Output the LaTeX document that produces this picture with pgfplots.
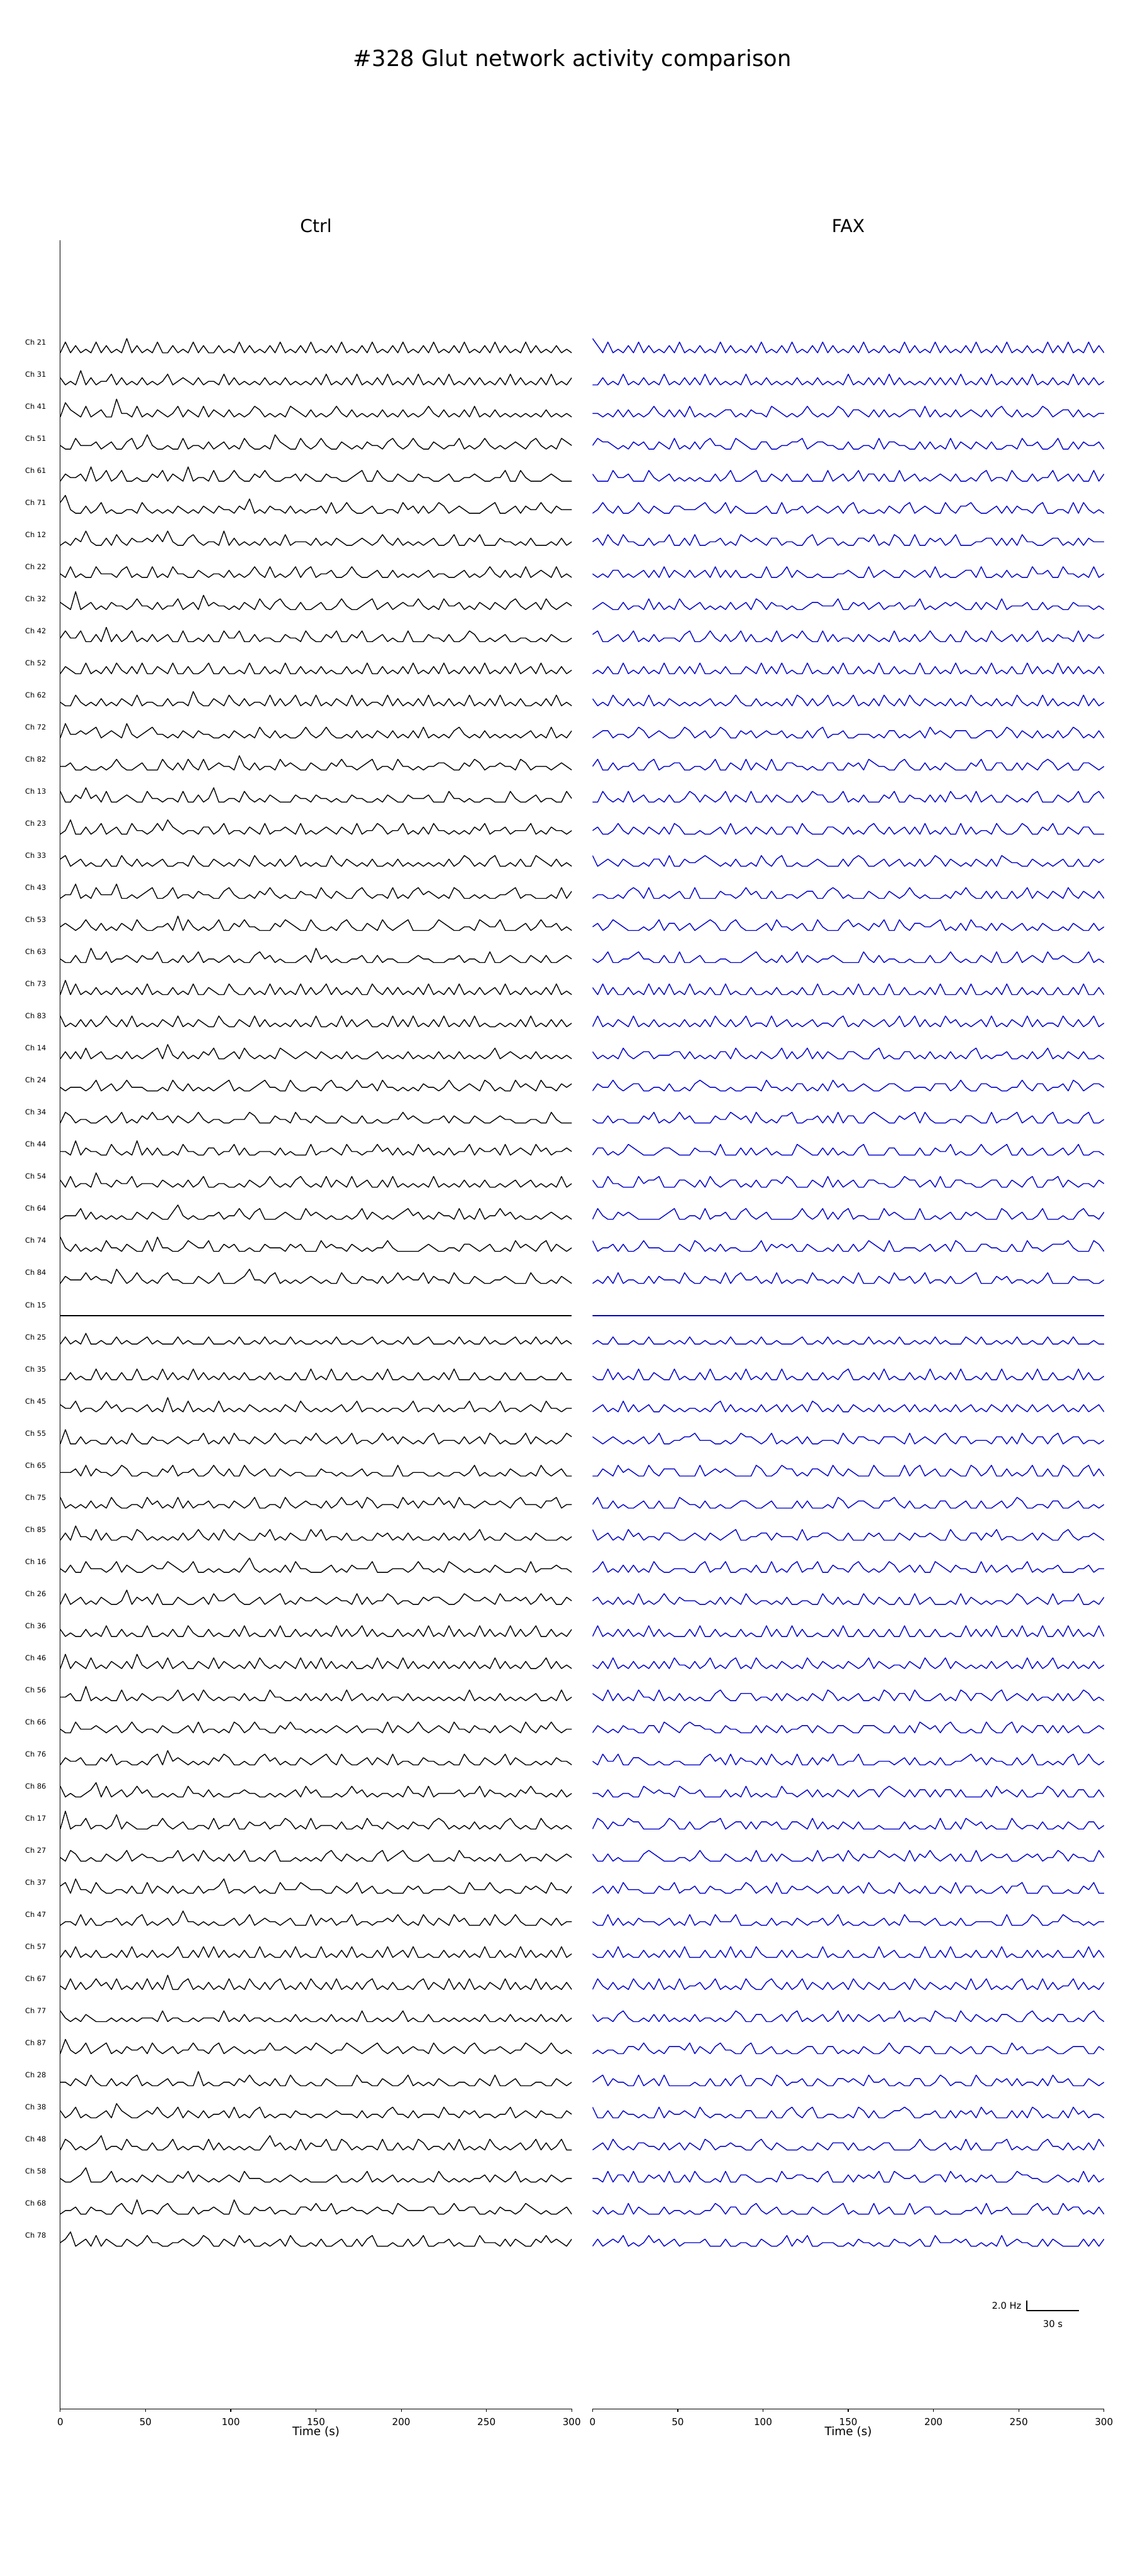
\documentclass[border=0pt]{standalone}
\usepackage{fontspec}
\setmainfont{DejaVu Sans}
\usepackage{pgfplots}
\usepackage{pgfplotstable}
\pgfplotsset{compat=1.18}
\definecolor{faxblue}{RGB}{0,0,205}

% rows: time 0,3,...,300 s ; columns: channels in plotted order (col 30 = Ch 15); unit 0.75 Hz
\pgfplotstableread[header=false]{
0 2 0 1 0 3 0 1 2 1  0 1 0 1 3 0 2 0 1 1  0 3 0 1 0 1 2 0 4 0  0 1 0 2 0 1 3 0 1 0  2 0 1 1 0 3 0 1 2 0  0 1 3 0 1 2 0 1 0 1
3 0 4 0 2 5 1 0 1 3  2 0 4 1 0 1 3 1 2 0  4 0 2 0 3 1 0 1 1 2  0 3 0 1 4 1 0 2 0 3  0 4 1 0 2 0 5 0 3 1  2 0 1 4 1 0 3 0 1 2
0 1 2 0 1 1 0 3 0 1  1 0 1 2 0 4 0 1 1 0  0 1 0 1 2 0 3 1 0 1  0 1 2 1 0 1 1 0 2 0  1 0 2 0 1 1 0 3 0 1  0 3 0 1 0 1 2 0 1 4
2 0 1 3 1 0 2 0 5 1  0 3 1 0 2 0 1 4 0 2  3 0 2 1 0 4 0 1 2 1  0 2 0 3 0 2 0 4 0 1  0 2 0 3 1 0 1 2 4 0  3 0 1 0 2 3 0 1 2 0
0 4 0 1 2 0 1 1 0 3  0 1 2 0 1 0 2 0 1 0  0 2 0 1 1 0 1 3 0 1  0 1 1 0 2 0 1 1 0 2  0 1 0 1 2 0 1 0 1 3  0 2 0 1 1 0 1 2 0 1
1 0 3 1 0 2 4 0 1 0  3 0 1 1 4 2 0 1 3 0  1 0 3 0 1 2 1 0 1 3  0 4 0 1 0 3 0 1 3 0  2 0 4 1 0 1 3 0 1 0  1 0 2 3 0 1 0 4 0 2
0 2 0 1 4 0 1 0 2 0  0 1 2 0 1 0 1 0 1 4  0 2 0 1 0 1 0 2 0 1  0 1 0 1 1 0 2 0 1 1  0 3 0 1 0 2 0 1 0 2  0 1 1 0 3 0 1 0 2 0
3 0 1 2 0 1 0 3 0 2  1 0 3 0 2 1 0 3 0 1  2 0 1 3 0 1 4 0 1 2  0 1 3 0 1 2 0 3 1 0  1 0 1 2 0 4 1 0 3 0  2 3 0 1 1 0 2 0 1 3
0 1 2 0 1 3 0 1 1 0  0 2 0 1 0 3 0 1 2 1  0 1 2 0 1 0 1 1 0 1  0 2 0 1 0 1 1 0 1 2  0 1 0 1 2 0 1 0 1 0  0 1 0 2 0 1 4 0 1 0
2 1 0 1 3 0 2 1 0 4  2 0 1 0 3 0 2 1 0 3  1 3 0 1 2 0 1 0 3 1  0 1 2 3 0 1 0 2 0 1  3 0 1 0 1 3 0 2 0 1  0 2 0 3 0 2 0 1 0 2
0 3 0 2 0 1 0 1 2 0  0 1 2 1 0 1 0 1 1 0  0 1 0 2 0 3 0 1 1 0  0 1 0 1 2 0 3 0 1 0  0 2 0 1 3 0 1 1 0 1  1 0 1 0 2 0 1 3 0 1
1 0 5 0 1 0 3 0 1 2  3 0 1 3 0 2 0 4 0 1  2 0 1 0 1 1 2 0 1 4  0 3 0 2 0 1 1 0 3 0  0 1 0 2 0 1 4 0 1 2  0 3 0 1 0 4 1 0 2 0
0 2 1 0 3 0 1 2 1 0  1 2 0 1 1 0 3 0 2 1  0 2 0 1 3 0 1 1 0 2  0 1 2 0 1 3 0 1 0 1  2 0 3 0 1 2 0 1 1 0  2 0 1 0 1 2 0 1 3 0
4 0 1 2 0 1 0 3 0 1  0 1 4 0 2 0 1 0 1 2  1 0 2 3 0 1 1 0 2 0  0 2 0 1 0 2 0 1 2 4  0 2 0 1 1 0 2 3 0 1  0 1 0 2 0 1 3 0 1 2
0 1 0 3 0 1 2 0 1 3  2 0 1 0 1 3 0 1 0 1  0 3 0 1 1 0 3 0 1 1  0 1 0 1 3 0 1 0 1 0  1 0 1 3 0 1 1 0 2 0  3 0 1 1 2 0 1 1 0 1
2 0 3 0 1 0 1 1 3 0  0 3 0 1 0 1 2 0 3 0  2 0 1 1 0 4 0 2 0 3  0 1 3 0 1 0 1 3 0 2  0 4 0 1 0 3 0 1 0 2  0 2 0 1 3 0 1 0 4 0
0 2 0 1 0 3 1 0 1 1  3 0 1 2 0 1 0 1 1 2  0 1 0 1 2 0 1 1 0 1  0 2 0 1 0 1 0 2 0 1  0 1 2 0 1 1 0 2 0 3  1 0 1 2 0 1 0 2 0 1
1 0 1 4 0 1 2 0 1 0  0 1 2 0 3 0 1 2 0 1  3 0 1 0 1 2 1 0 3 0  0 3 0 2 0 1 3 0 1 2  3 0 1 1 0 2 0 1 3 0  0 3 1 0 1 2 0 1 1 3
0 1 0 1 2 0 1 3 0 2  0 1 3 0 1 1 0 3 0 1  0 1 2 0 3 0 1 2 0 1  0 1 1 0 2 0 1 1 2 0  0 1 0 1 2 0 1 1 0 1  2 0 1 3 0 1 2 0 1 1
3 0 2 0 1 1 3 0 2 0  2 0 1 0 1 3 1 0 1 3  1 0 3 0 1 2 0 1 4 0  0 2 0 1 1 0 2 0 1 3  0 2 1 0 3 0 1 0 2 0  0 2 0 1 0 3 0 2 0 1
0 1 1 0 3 0 1 1 0 1  1 0 1 3 0 1 2 0 1 0  0 2 0 1 1 0 2 0 1 2  0 1 3 0 1 2 0 1 1 0  1 0 1 2 0 1 3 0 1 1  1 0 3 0 1 1 0 1 2 0
0 3 0 1 0 1 4 0 1 2  0 2 0 1 1 4 0 1 2 0  0 1 4 0 2 0 1 0 1 3  0 1 0 4 0 1 1 0 3 0  0 3 0 1 4 0 1 1 0 2  0 4 0 1 2 0 1 0 3 0
2 0 1 0 2 0 1 3 1 0  3 0 1 0 1 2 0 3 0 1  2 0 1 3 0 1 0 2 0 1  0 1 2 0 1 3 0 1 2 0  2 0 1 0 1 1 0 1 2 0  1 0 1 2 0 1 3 0 1 1
0 1 3 0 1 2 0 1 3 0  0 1 0 2 0 1 1 0 4 0  0 3 0 1 2 0 1 4 0 1  0 3 0 1 2 0 3 0 1 2  0 1 3 0 2 0 1 3 0 1  3 0 1 0 1 3 0 2 0 1
1 2 0 3 0 1 0 1 0 3  0 1 2 0 3 0 1 1 0 2  1 0 2 0 1 3 0 1 1 0  0 1 1 0 1 1 0 2 0 1  0 2 0 1 1 0 2 0 1 4  0 2 0 1 1 0 1 1 0 2
0 1 2 0 4 0 2 0 1 0  2 0 1 3 0 1 0 1 3 0  0 1 0 2 0 1 2 0 3 0  0 2 0 3 0 1 2 0 1 0  3 0 1 2 0 3 0 1 0 1  0 3 0 1 0 2 0 3 0 1
3 0 1 1 0 1 3 0 2 0  0 4 0 1 0 1 3 0 1 1  3 0 1 0 1 1 0 1 2 0  0 1 3 0 1 2 0 1 3 0  1 0 2 0 1 1 0 2 0 1  2 0 1 3 0 1 1 0 2 0
0 2 0 1 1 0 1 2 0 1  0 1 2 0 2 0 1 2 0 3  0 2 0 1 3 0 1 0 1 2  0 1 0 1 1 0 1 3 0 1  0 2 0 3 0 1 1 0 2 0  0 1 0 1 4 0 1 2 0 1
2 0 3 0 1 2 0 1 4 0  1 0 1 3 0 2 0 1 1 0  0 1 2 0 1 0 3 0 1 1  0 1 2 0 3 0 1 1 0 2  0 1 3 0 1 0 1 3 0 1  3 0 1 1 0 2 0 1 1 3
0 1 0 2 0 1 1 0 1 2  3 0 1 0 1 2 0 1 0 1  2 0 1 1 0 2 0 1 3 0  0 3 0 1 0 1 2 0 1 0  2 0 1 1 0 2 0 1 1 0  0 2 1 0 1 0 3 0 1 2
0 1 2 0 3 0 1 1 2 0  0 2 0 1 4 0 2 0 1 1  1 0 3 0 1 2 0 1 0 1  0 1 1 0 1 3 0 2 0 3  0 3 0 1 2 0 3 0 1 1  3 0 1 2 0 1 0 1 2 0
2 0 1 1 0 2 0 1 1 0  0 1 0 2 0 1 1 0 3 0  0 3 0 1 1 0 1 2 0 3  0 1 0 3 0 1 1 0 1 1  1 0 1 0 1 1 0 1 2 0  0 1 0 3 0 1 2 0 1 0
0 3 0 2 0 1 4 0 1 3  2 0 1 1 0 3 0 2 0 1  0 1 0 2 0 1 1 0 2 0  0 1 2 0 2 0 1 3 0 1  0 2 0 1 3 0 1 0 4 0  2 0 3 0 1 2 0 1 0 2
1 0 2 0 1 1 0 2 0 1  0 3 0 1 1 0 1 3 0 2  3 0 1 3 0 1 0 1 1 0  0 2 0 1 0 2 0 1 0 2  0 1 1 0 2 0 1 2 0 1  0 3 0 1 1 0 1 2 0 1
0 2 0 1 3 0 2 0 1 1  0 1 2 0 1 1 0 1 2 0  1 0 2 0 1 3 0 1 2 0  0 1 1 0 3 0 2 0 1 3  2 0 1 3 0 1 3 0 1 2  1 0 1 2 0 3 0 1 4 0
3 0 1 0 1 2 0 1 0 3  1 0 1 4 0 1 2 0 1 1  0 2 0 1 1 0 1 3 0 1  0 3 0 1 1 0 1 2 0 1  0 1 0 2 0 1 0 1 1 0  0 1 0 1 2 0 1 0 1 3
0 1 0 3 0 1 1 0 2 0  0 2 0 1 3 0 1 0 3 0  0 1 3 0 1 2 0 1 0 2  0 1 2 0 1 3 0 1 2 0  3 0 2 0 1 2 0 3 0 1  2 0 2 0 1 1 0 3 0 1
2 0 1 1 0 4 0 1 1 0  3 0 1 0 1 2 0 1 1 0  2 0 1 0 3 0 2 0 1 4  0 1 0 2 0 1 1 0 4 0  0 2 0 1 0 1 2 0 1 3  0 3 0 1 3 0 1 1 0 2
0 1 3 0 2 0 1 3 0 2  0 1 0 2 0 1 3 0 1 2  0 3 0 1 2 0 1 2 0 1  0 2 0 1 2 0 3 0 1 1  1 0 1 3 0 1 1 0 2 0  0 1 1 0 1 2 0 1 2 0
1 0 2 0 1 1 0 1 3 0  0 1 3 0 1 0 1 2 0 3  1 0 1 2 0 1 0 3 0 1  0 1 1 0 1 1 0 2 0 2  0 3 0 1 2 0 1 1 0 1  3 0 1 1 0 3 0 1 1 0
0 2 0 1 3 0 2 0 1 1  2 0 1 1 0 3 0 1 0 1  0 2 0 3 0 1 1 0 2 0  0 3 0 1 0 2 0 1 1 0  0 1 0 1 3 0 2 0 1 2  0 2 0 1 1 0 2 0 1 1
2 0 1 0 1 2 0 3 0 1  0 3 0 1 2 0 1 3 0 2  3 0 1 1 0 1 3 0 1 2  0 1 2 0 1 0 1 3 0 1  2 0 3 0 1 1 0 2 0 1  1 0 1 3 0 1 4 0 2 0
0 1 0 4 0 1 1 0 2 0  1 0 2 0 1 1 0 1 2 0  0 1 0 1 2 0 1 0 1 3  0 2 0 1 3 0 1 0 1 2  0 1 1 0 2 0 1 3 0 1  0 2 0 1 2 0 1 1 0 1
3 0 1 2 0 1 0 1 3 0  0 2 0 3 0 1 2 0 1 1  2 0 3 0 1 2 0 1 1 0  0 1 1 0 1 2 0 1 0 3  3 0 1 2 0 1 1 0 3 0  0 3 0 1 0 1 2 0 1 2
0 2 0 1 1 0 3 0 1 2  3 0 1 1 0 2 0 1 3 0  0 1 2 0 1 0 1 2 0 1  0 1 0 2 0 1 3 0 2 0  0 2 0 1 1 0 3 0 1 1  2 0 1 2 0 1 0 1 1 0
1 0 3 0 1 2 0 1 0 1  0 1 0 2 0 1 1 0 2 0  1 0 1 3 0 1 0 1 2 0  0 3 0 1 1 0 1 2 0 1  0 1 0 3 0 1 2 0 1 2  0 1 0 1 3 0 1 2 0 3
0 1 2 0 2 0 1 3 0 1  0 3 0 1 2 0 3 0 1 0  0 2 0 1 3 0 2 0 1 1  0 1 2 0 1 1 0 1 3 0  2 0 1 1 0 2 0 1 1 0  3 0 2 0 1 2 0 1 0 1
2 0 1 3 0 1 1 0 2 0  2 0 1 0 1 3 0 2 0 1  3 0 1 0 1 0 3 0 2 0  0 2 0 3 0 1 1 0 1 2  0 3 0 1 2 0 1 0 3 0  0 2 0 1 0 1 3 0 2 0
0 1 0 1 2 0 1 2 0 3  0 1 3 0 1 0 1 1 0 2  0 1 2 0 1 0 1 3 0 1  0 1 0 1 2 0 2 0 1 1  1 0 2 0 1 3 0 1 2 0  1 0 1 2 0 1 0 1 2 0
3 0 2 0 1 1 0 3 0 1  1 0 1 2 0 1 0 1 3 0  2 0 1 1 0 3 0 1 0 2  0 1 3 0 1 0 1 3 0 1  0 2 0 1 0 1 3 0 1 3  0 3 0 1 1 0 2 0 1 1
0 2 0 1 0 1 2 0 1 0  0 3 0 1 2 0 1 0 1 4  0 3 0 1 2 0 1 2 0 1  0 2 0 1 3 0 1 1 0 2  2 0 1 0 1 2 0 1 1 0  0 1 0 3 0 1 1 0 3 0
1 0 1 3 0 2 0 1 2 0  2 0 1 0 1 1 0 3 0 1  1 0 2 0 1 1 0 1 3 0  0 1 1 0 1 2 0 3 0 1  0 3 0 1 2 0 1 0 1 2  3 0 1 2 0 1 1 0 1 2
0 3 0 1 2 0 1 1 0 2  0 1 3 0 1 2 0 1 0 2  3 0 1 2 0 1 3 0 1 1  0 2 0 1 0 1 2 0 1 0  1 0 2 0 3 0 1 2 0 1  0 2 0 1 2 0 3 0 1 0
2 0 1 0 1 3 0 2 0 1  1 0 1 2 0 1 3 0 1 0  0 1 0 3 0 2 0 1 2 0  0 1 3 0 1 1 0 1 2 1  0 2 0 1 1 0 1 3 0 2  1 0 2 0 1 1 0 1 3 0
0 1 3 0 1 0 2 0 1 3  0 2 0 1 1 0 1 2 0 1  2 0 1 1 0 1 2 0 1 0  0 3 0 1 2 0 1 1 0 2  3 0 1 2 0 1 0 1 2 0  0 3 0 1 0 2 0 2 0 1
3 0 1 2 0 1 1 0 3 0  0 1 0 3 0 2 0 1 2 0  0 3 0 1 2 0 1 0 1 3  0 1 0 2 0 1 3 0 1 1  0 1 0 1 3 0 2 0 1 1  2 0 1 1 0 1 3 0 1 2
0 2 0 1 0 3 0 1 1 0  2 0 1 1 0 1 2 0 3 0  1 0 2 0 1 3 0 1 0 1  0 1 2 0 1 0 1 2 0 1  2 0 3 0 1 1 0 2 0 1  0 1 0 3 0 1 2 0 1 0
1 0 2 0 1 1 0 3 0 2  0 3 0 1 2 0 1 0 1 1  0 2 0 1 0 1 3 0 2 0  0 2 0 1 3 0 1 0 2 0  0 2 0 1 0 3 0 1 1 3  3 0 1 2 0 1 0 1 2 0
0 3 0 1 2 0 1 1 0 1  1 0 2 0 1 3 0 2 0 1  2 0 1 3 0 1 0 1 1 0  0 1 0 3 0 1 2 0 1 3  1 0 1 2 0 1 1 0 3 0  0 2 0 1 3 0 1 0 1 2
2 0 1 0 3 0 2 0 1 3  0 2 0 1 1 0 1 3 0 2  0 1 0 1 2 0 1 3 0 2  0 1 1 0 1 2 0 1 1 0  3 0 2 0 1 2 0 1 0 1  1 0 3 0 1 2 0 1 1 0
0 1 0 2 0 1 1 0 2 0  3 0 1 2 0 1 0 1 2 0  0 2 0 1 0 1 2 0 1 1  0 2 0 1 1 0 3 0 1 2  0 1 0 1 2 0 3 0 1 1  0 2 0 1 1 0 1 3 0 2
3 0 1 1 0 2 0 1 3 0  0 1 0 3 0 1 2 0 1 0  3 0 1 2 0 1 0 2 0 1  0 3 0 1 0 1 2 0 3 0  2 0 1 1 0 1 1 0 2 0  0 3 0 2 0 1 1 0 1 3
0 2 0 1 3 0 1 2 0 1  0 1 2 0 1 3 0 1 0 2  1 0 2 0 1 3 0 1 1 0  0 1 2 0 1 1 0 2 0 1  0 3 0 1 2 0 1 2 0 1  2 0 1 3 0 1 0 1 2 0
1 0 2 0 1 0 3 0 1 2  2 0 1 1 0 2 0 1 3 0  0 1 0 3 0 1 2 0 1 2  0 2 0 1 3 0 1 1 0 1  1 0 2 0 1 1 0 3 0 1  0 1 0 1 2 0 3 0 1 0
0 3 0 2 0 1 1 0 2 0  0 3 0 1 2 0 1 0 1 1  2 0 1 1 0 2 0 1 3 0  0 1 3 0 1 0 1 2 0 3  0 2 0 3 0 1 2 0 1 2  3 0 1 0 1 2 0 1 1 0
2 0 1 3 0 1 0 2 0 1  1 0 2 0 1 1 0 3 0 1  0 3 0 1 1 0 3 0 1 1  0 1 0 1 2 0 1 0 1 2  0 1 1 0 3 0 1 1 0 1  0 2 0 1 0 3 0 2 0 1
0 1 0 1 2 0 2 0 1 0  0 2 0 3 0 1 2 0 1 0  2 0 1 0 1 2 0 1 0 3  0 2 0 1 0 3 0 1 1 0  2 0 1 2 0 1 0 2 0 3  1 0 1 2 0 1 2 0 3 0
3 0 2 0 1 3 0 1 2 0  2 0 1 1 0 3 0 1 2 0  0 2 0 1 3 0 1 2 0 1  0 1 1 0 2 0 3 0 1 1  0 3 0 1 1 0 1 3 0 1  2 0 3 0 1 1 0 1 2 0
0 2 0 1 0 1 1 0 1 3  0 1 0 1 2 0 1 0 3 0  1 0 2 0 1 1 0 3 0 2  0 3 0 1 1 0 1 2 0 1  1 0 2 0 1 3 0 1 2 0  0 1 0 1 3 0 1 0 1 2
1 0 1 3 0 2 0 1 1 0  3 0 2 0 1 1 0 2 0 1  0 3 0 1 2 0 1 1 0 1  0 1 0 3 0 1 2 0 1 0  0 2 0 1 0 1 2 0 1 1  3 0 1 2 0 2 0 1 1 0
0 3 0 1 2 0 1 0 3 0  0 2 0 1 1 0 1 3 0 2  2 0 1 0 1 3 0 2 0 1  0 1 2 0 1 1 0 1 3 0  2 0 1 3 0 1 1 0 2 0  0 2 0 1 1 0 3 0 1 1
2 0 1 0 1 2 0 1 1 0  1 0 3 0 1 2 0 1 0 1  0 1 0 2 0 1 1 0 1 3  0 2 0 1 0 1 2 0 1 2  0 1 0 1 2 0 1 1 0 3  0 3 0 1 0 1 2 0 1 3
0 1 3 0 1 0 1 2 0 2  0 3 0 1 2 0 1 2 0 1  3 0 1 1 0 2 0 1 2 0  0 3 0 1 2 0 1 0 1 1  3 0 1 0 1 3 0 2 0 1  1 0 2 0 1 1 0 1 2 0
3 0 1 2 0 1 2 0 1 1  2 0 1 1 0 3 0 1 1 0  0 2 0 1 1 0 3 0 1 2  0 1 1 0 3 0 1 1 0 2  0 2 0 1 1 0 2 0 1 0  0 2 0 3 0 1 1 0 2 0
0 2 0 1 0 3 0 1 0 1  0 1 0 2 0 1 1 0 3 0  1 0 2 0 1 1 0 2 0 1  0 1 0 2 0 1 3 0 1 2  1 0 1 2 0 1 3 0 1 2  0 1 0 1 2 0 1 3 0 1
1 0 2 0 1 2 0 1 3 0  3 0 1 2 0 1 0 1 2 0  0 3 0 1 2 0 1 1 0 1  0 1 2 0 1 0 1 2 0 1  0 2 0 1 0 1 2 0 1 1  2 0 1 0 1 3 0 1 0 1
0 3 0 1 2 0 1 0 1 2  0 2 0 1 3 0 2 0 1 1  2 0 1 3 0 2 0 1 1 0  0 2 0 1 1 0 2 0 3 0  3 0 1 0 1 1 0 1 2 0  0 3 0 1 0 1 2 0 1 2
2 0 1 1 0 1 3 0 1 0  1 0 2 0 1 1 0 3 0 1  0 1 0 1 2 0 1 0 1 3  0 1 3 0 1 1 0 1 2 0  0 1 0 3 0 1 1 0 1 3  1 0 1 2 0 1 0 1 3 0
0 1 0 3 0 2 0 1 2 0  0 1 3 0 1 0 1 2 0 2  3 0 2 0 1 1 0 3 0 1  0 3 0 1 0 1 3 0 1 1  2 0 1 1 0 2 0 3 0 1  0 2 0 1 1 0 3 0 1 1
3 0 2 0 1 1 0 2 0 1  2 0 1 2 0 1 3 0 1 0  0 2 0 1 0 1 2 0 2 0  0 1 0 1 2 0 1 2 0 3  0 2 0 1 3 0 1 1 0 2  2 0 1 0 1 2 0 1 1 0
0 2 0 1 1 0 2 0 1 3  0 3 0 1 1 0 2 0 1 1  1 0 1 2 0 3 0 1 2 0  0 2 0 3 0 1 1 0 1 2  1 0 3 0 1 1 0 1 3 0  0 3 0 2 0 1 1 0 2 0
1 0 3 0 2 0 1 1 0 2  2 0 1 3 0 2 0 1 0 1  0 3 0 1 2 0 1 0 1 2  0 1 2 0 1 3 0 1 0 1  0 2 0 2 0 1 2 0 1 0  1 0 1 3 0 2 0 1 2 0
0 2 0 1 1 0 3 0 2 0  0 1 0 2 0 1 1 0 3 0  2 0 1 0 1 2 0 3 0 1  0 1 0 1 2 0 1 3 0 1  3 0 1 1 0 3 0 1 1 0  0 1 0 1 2 0 1 1 0 3
2 0 1 3 0 1 0 1 1 0  3 0 2 0 1 3 0 1 2 0  0 1 0 3 0 1 2 0 1 0  0 3 0 1 0 1 2 0 1 2  0 1 0 1 2 0 1 0 1 2  3 0 2 0 1 1 0 2 0 1
0 1 0 1 0 2 0 3 0 1  0 2 0 1 1 0 2 0 1 3  1 0 1 2 0 1 0 1 2 0  0 1 1 0 3 0 1 1 0 1  2 0 1 0 1 2 0 1 3 0  0 2 0 1 0 1 3 0 1 1
3 0 2 0 1 3 0 1 2 0  1 0 1 1 0 1 3 0 1 0  2 0 3 0 1 2 0 1 0 1  0 2 0 1 2 0 1 0 2 0  0 3 0 2 0 1 1 0 1 3  0 1 0 1 3 0 1 2 0 1
0 2 0 1 1 0 2 0 1 1  0 3 0 2 0 1 0 1 3 0  0 1 0 1 2 0 1 3 0 1  0 1 0 3 0 1 2 0 1 3  1 0 2 0 1 1 0 2 0 1  2 0 1 2 0 1 0 1 2 0
2 0 1 0 3 0 1 2 0 2  2 0 1 1 0 2 0 1 0 1  3 0 1 0 1 3 0 1 1 2  0 1 2 0 1 0 1 2 0 1  0 2 0 1 3 0 2 0 1 0  0 3 0 1 0 1 1 0 1 2
0 3 0 1 0 1 1 0 2 0  0 1 0 1 3 0 1 2 0 2  0 1 2 0 1 0 1 2 0 1  0 2 0 1 0 2 0 1 0 1  3 0 1 2 0 1 3 0 1 1  1 0 2 0 1 3 0 1 1 0
1 0 1 2 0 2 0 1 3 0  3 0 1 0 1 1 0 3 0 1  1 0 1 3 0 1 2 0 3 0  0 3 0 1 0 1 2 0 1 2  0 1 0 1 2 0 1 1 0 3  0 2 0 1 2 0 1 3 0 2
0 2 0 1 3 0 1 0 1 1  0 2 0 3 0 1 2 0 1 0  0 2 0 1 0 2 0 1 1 0  0 1 2 0 1 0 3 0 1 1  2 0 1 0 1 2 0 2 0 1  3 0 1 1 0 1 2 0 1 1
3 0 1 0 1 2 0 3 0 1  1 0 1 2 0 1 0 1 2 0  2 0 1 2 0 1 1 0 2 0  0 2 0 1 3 0 1 1 0 2  0 2 0 3 0 1 1 0 2 0  0 1 0 3 0 2 0 1 3 0
0 1 0 2 0 1 2 0 1 0  2 0 2 0 1 3 0 1 0 2  0 3 0 1 1 0 2 0 1 3  0 1 0 2 0 1 1 0 3 0  1 0 1 1 0 3 0 1 1 0  2 0 1 2 0 1 1 0 2 0
2 0 1 3 0 1 0 1 2 0  0 1 0 1 2 0 3 0 1 1  1 0 2 0 1 3 0 1 0 1  0 3 0 1 2 0 1 2 0 1  3 0 2 0 1 1 0 1 2 0  0 3 0 1 1 0 3 0 1 2
0 2 0 1 0 3 0 2 0 1  3 0 1 1 0 1 2 0 3 0  0 1 0 3 0 1 1 0 2 0  0 1 1 0 1 3 0 1 1 3  0 1 0 2 0 1 3 0 1 2  1 0 2 0 1 2 0 1 0 1
1 0 2 0 1 1 0 1 3 0  0 2 0 1 1 0 1 0 1 2  2 0 1 1 0 2 0 1 3 0  0 2 0 3 0 1 2 0 1 1  0 3 0 1 1 0 1 2 0 1  0 2 0 1 0 1 2 0 1 3
0 3 0 1 2 0 1 0 1 2  1 0 3 0 1 2 0 1 1 0  0 2 0 1 3 0 1 2 0 1  0 1 0 1 1 0 2 0 1 2  2 0 1 3 0 1 0 1 3 0  2 0 1 3 0 1 0 2 0 1
2 0 1 0 1 2 0 3 0 1  0 3 0 1 0 1 2 0 2 0  3 0 1 0 1 1 0 1 2 0  0 3 0 1 0 1 3 0 2 0  0 2 0 1 2 0 1 0 1 2  0 1 0 1 2 0 1 1 0 2
0 1 0 3 0 1 2 0 1 0  2 0 1 2 0 1 0 3 0 1  0 2 0 2 0 1 3 0 1 2  0 1 2 0 1 2 0 1 1 0  1 0 3 0 1 2 0 1 1 0  3 0 2 0 1 0 3 0 1 1
1 0 1 2 0 1 0 1 2 0  0 1 0 1 3 0 1 0 1 2  1 0 1 1 0 2 0 1 0 1  0 2 0 1 3 0 1 0 1 2  0 1 0 1 1 0 1 2 0 1  0 2 0 1 0 2 0 1 2 0
0 2 0 1 0 1 1 0 1 1  1 0 2 0 1 1 0 2 0 1  0 1 0 2 0 1 1 0 1 0  0 1 0 1 2 0 1 1 0 1  2 0 1 1 0 1 0 1 2 1  1 0 1 0 1 1 0 1 0 2
}\ctrldata

\pgfplotstableread[header=false]{
4 0 1 1 2 0 1 1 0 2  0 2 0 1 0 1 3 0 1 1  2 0 2 0 1 0 2 0 3 0  0 1 1 0 2 0 1 3 0 1  0 1 2 0 1 1 0 2 0 1  1 0 2 0 1 3 0 1 1 0
2 0 1 3 0 1 2 0 1 3  1 0 1 3 0 2 0 1 2 0  0 3 0 2 0 2 0 3 0 1  0 2 0 1 1 0 3 0 1 2  3 0 1 2 0 1 3 0 1 0  0 3 0 1 2 0 1 1 0 2
0 2 0 2 0 3 0 1 2 0  0 1 2 0 3 0 1 1 0 1  3 0 1 1 0 2 0 1 1 0  0 1 0 2 0 2 0 1 3 0  0 2 0 1 3 0 2 0 2 0  0 1 1 0 3 0 2 0 2 0
3 0 1 2 0 1 3 0 1 0  2 0 2 0 1 0 2 0 1 3  0 1 0 1 2 0 3 0 1 2  0 1 3 0 1 1 0 2 0 1  1 0 3 0 1 2 0 2 0 3  2 0 1 1 0 2 0 3 0 1
0 1 0 1 3 0 1 2 0 1  0 3 0 2 0 1 1 0 3 0  2 0 1 3 0 1 1 0 2 0  0 3 0 1 2 0 2 0 1 0  0 3 0 1 1 0 2 0 2 0  0 2 0 1 2 0 3 0 1 2
1 0 2 0 1 2 0 2 0 2  0 1 1 0 1 3 0 1 2 0  0 2 0 1 1 0 1 2 0 3  0 1 2 0 1 3 0 1 0 2  2 0 2 0 3 0 1 1 0 2  3 0 2 0 1 0 1 2 0 1
0 3 0 1 1 0 3 0 2 0  3 0 1 1 0 1 2 0 1 1  0 1 3 0 1 1 0 1 2 0  0 1 0 3 0 1 1 0 2 0  0 1 0 2 0 1 1 0 3 0  0 1 3 0 1 2 0 2 0 3
2 0 2 0 2 0 1 1 0 1  0 2 0 1 3 0 1 2 0 1  2 0 1 1 0 3 0 2 0 1  0 1 1 0 1 2 0 3 0 1  2 0 1 1 0 1 3 0 1 1  1 0 1 2 0 1 1 0 3 0
0 1 0 2 0 1 1 0 1 3  1 0 1 2 0 2 0 3 0 2  0 3 0 2 0 2 0 1 0 1  0 2 0 2 0 1 0 1 2 0  0 2 0 1 2 0 2 0 1 0  0 3 0 2 0 1 0 3 0 1
3 0 1 1 0 3 0 1 1 0  0 1 3 0 1 1 0 2 0 3  1 0 1 2 0 1 3 0 1 0  0 1 3 0 1 0 1 2 0 3  1 0 3 0 2 0 2 0 1 2  0 1 0 1 3 0 2 0 2 0
0 2 0 2 0 1 0 2 0 1  2 0 2 0 2 0 1 0 1 1  0 1 2 0 2 0 1 0 3 0  0 1 0 1 2 0 2 0 1 0  0 1 1 0 1 3 0 2 0 1  2 0 1 3 0 1 2 0 1 1
2 0 1 0 3 0 2 0 3 0  0 3 0 2 0 2 0 3 0 1  3 0 2 0 1 0 2 0 1 2  0 3 0 2 0 3 0 1 0 1  3 0 1 2 0 2 0 3 0 1  0 2 0 1 1 0 1 2 0 3
0 1 3 0 1 2 0 2 0 2  1 0 1 3 0 1 2 0 1 0  0 2 0 1 3 0 2 0 1 0  0 1 2 0 1 1 0 1 3 0  0 2 0 2 0 1 0 2 0 1  1 0 2 0 2 0 1 1 0 1
1 0 1 2 0 1 1 0 2 0  0 1 2 0 1 0 2 0 3 0  2 0 1 1 0 1 3 0 1 2  0 1 1 0 3 0 2 0 1 1  2 0 3 0 1 2 0 1 2 0  0 3 0 1 0 3 0 2 0 2
0 3 0 1 1 0 1 3 0 1  3 0 1 1 0 2 0 1 0 2  0 1 1 0 1 2 0 1 0 1  0 1 0 2 0 2 0 2 0 3  0 2 0 3 0 1 1 0 1 1  2 0 2 0 3 0 2 0 2 0
2 0 2 0 2 0 3 0 1 1  0 2 0 1 2 0 3 0 2 0  3 0 1 2 0 2 0 2 0 1  0 2 0 1 0 2 0 2 0 1  1 0 1 2 0 1 3 0 1 2  0 1 0 2 0 2 0 3 0 1
0 1 0 3 0 2 0 2 0 1  0 1 0 2 0 3 0 1 2 0  0 1 2 0 1 1 0 3 0 1  0 1 3 0 1 2 0 1 1 0  0 3 0 1 1 0 2 0 3 0  2 0 1 2 0 1 1 0 1 2
3 0 2 0 1 2 0 1 3 0  2 0 1 2 0 2 0 2 0 3  1 0 2 0 3 0 2 0 2 0  0 2 0 1 1 0 3 0 1 2  0 1 2 0 1 3 0 1 0 1  0 3 0 2 0 1 2 0 1 0
0 2 0 1 0 1 2 0 1 2  0 1 3 0 1 0 2 0 1 0  0 2 0 1 1 0 2 0 1 3  0 1 1 0 2 0 2 0 1 1  0 1 0 2 0 2 0 1 1 0  3 0 1 1 0 2 0 2 0 1
1 0 3 0 1 1 0 2 0 3  2 0 2 0 3 0 1 0 2 0  3 0 2 0 2 0 1 1 0 1  0 3 0 1 2 0 1 1 0 1  2 0 1 3 0 1 2 0 1 3  0 1 0 3 0 1 2 0 1 1
0 2 0 2 0 1 3 0 1 0  0 1 0 1 2 0 1 3 0 1  0 1 0 2 0 2 0 1 3 0  0 1 0 1 3 0 1 2 0 1  0 2 0 2 0 1 0 1 2 0  0 1 2 0 1 0 1 3 0 1
2 0 1 0 1 2 0 1 2 0  3 0 1 1 0 1 2 0 1 2  1 0 1 3 0 1 2 0 2 0  0 1 2 0 1 3 0 1 2 0  3 0 1 2 0 2 0 3 0 1  0 2 0 2 0 3 0 1 0 1
0 3 0 2 0 3 0 2 0 1  0 1 2 0 2 0 3 0 2 0  0 2 0 2 0 1 0 3 0 2  0 2 0 1 1 0 2 0 3 0  0 1 0 1 2 0 1 1 0 1  2 0 1 1 0 1 3 0 1 2
1 0 1 3 0 1 1 0 1 3  0 2 0 1 1 0 2 0 3 0  2 0 1 1 0 1 3 0 1 1  0 1 3 0 1 1 0 2 0 1  0 3 0 1 3 0 2 0 2 0  0 1 1 0 2 0 2 0 1 0
0 2 0 1 2 0 1 3 0 1  1 0 1 3 0 1 1 0 2 0  0 3 0 1 2 0 1 1 0 1  0 1 0 2 0 2 0 1 1 0  2 0 2 0 1 0 2 0 1 3  0 3 0 2 0 1 0 1 3 0
3 0 1 1 0 1 2 0 1 0  0 1 3 0 1 2 0 2 0 1  0 1 2 0 1 3 0 1 2 0  0 2 0 3 0 1 1 0 1 2  0 1 3 0 2 0 3 0 1 1  2 0 1 3 0 1 1 0 2 0
0 1 2 0 1 3 0 2 0 2  2 0 2 0 3 0 1 1 0 1  3 0 2 0 1 0 1 2 0 3  0 1 1 0 1 2 0 1 3 0  1 0 1 2 0 2 0 2 0 1  0 1 0 1 2 0 1 3 0 2
2 0 2 0 3 0 1 0 2 0  0 1 0 2 0 3 0 1 2 0  0 2 0 1 3 0 2 0 1 0  0 3 0 2 0 1 0 2 0 2  0 2 0 1 3 0 1 1 0 1  3 0 1 1 0 1 2 0 2 0
0 1 0 3 0 2 0 2 0 1  0 3 0 1 2 0 2 0 3 0  1 0 3 0 2 0 2 0 1 2  0 1 2 0 1 0 1 3 0 1  0 3 0 1 0 1 2 0 1 3  0 1 3 0 2 0 1 0 2 0
1 0 1 2 0 1 3 0 1 3  0 1 2 0 1 1 0 1 1 0  0 1 1 0 1 2 0 2 0 3  0 1 0 1 3 0 2 0 1 0  2 0 2 0 2 0 2 0 1 0  2 0 2 0 3 0 1 2 0 1
0 3 0 1 1 0 2 0 2 0  2 0 1 3 0 2 0 3 0 1  0 3 0 1 2 0 1 3 0 1  0 1 3 0 2 0 2 0 1 3  0 1 2 0 1 3 0 1 3 0  0 3 0 2 0 2 0 2 0 1
2 0 2 0 2 0 1 1 0 2  1 0 2 0 3 0 1 1 0 2  2 0 1 1 0 2 0 1 0 1  0 2 0 1 2 0 1 1 0 1  1 0 2 0 1 0 2 0 2 0  0 1 0 3 0 2 0 1 2 0
0 1 1 0 3 0 2 0 3 0  0 2 0 2 0 2 0 2 0 3  0 1 0 1 3 0 2 0 1 2  0 1 1 0 1 3 0 1 2 0  0 3 0 2 0 1 0 3 0 1  3 0 2 0 2 0 2 0 3 0
3 0 1 2 0 1 1 0 2 0  3 0 1 1 0 1 3 0 1 1  0 1 2 0 1 1 0 1 3 0  0 3 0 2 0 2 0 2 0 1  0 1 1 0 2 0 2 0 1 0  1 0 2 0 2 0 3 0 1 2
0 2 0 2 0 2 0 3 0 1  0 1 2 0 2 0 1 0 2 0  1 0 1 3 0 2 0 2 0 1  0 1 2 0 1 0 1 2 0 1  3 0 1 2 0 1 2 0 2 0  0 2 0 1 1 0 1 1 0 1
1 0 3 0 2 0 2 0 2 0  2 0 1 3 0 2 0 2 0 1  0 3 0 1 1 0 2 0 2 0  0 1 0 1 3 0 2 0 3 0  0 1 0 1 3 0 1 2 0 2  0 3 0 2 0 2 0 1 1 0
0 1 2 0 1 0 2 0 1 3  0 1 1 0 2 0 2 0 3 0  2 0 1 1 0 1 2 0 1 3  0 2 0 2 0 1 0 2 0 1  2 0 2 0 1 0 2 0 3 0  0 1 1 0 3 0 2 0 2 0
2 0 1 1 0 3 0 1 1 0  3 0 2 0 1 0 3 0 1 2  0 1 3 0 2 0 1 0 2 0  0 1 3 0 1 3 0 1 1 0  0 2 0 2 0 3 0 2 0 1  2 0 2 0 2 0 1 3 0 1
0 1 0 1 2 0 1 3 0 1  0 2 0 2 0 2 0 1 1 0  0 2 0 1 2 0 3 0 1 1  0 1 0 2 0 2 0 1 0 2  0 1 2 0 1 1 0 1 0 1  0 2 0 1 0 2 0 1 0 3
3 0 1 2 0 1 1 0 1 2  1 0 1 2 0 2 0 1 0 1  1 0 2 0 3 0 2 0 2 0  0 1 1 0 1 2 0 1 2 0  3 0 1 1 0 1 2 0 2 0  2 0 2 0 1 3 0 1 1 0
0 2 0 2 0 1 0 2 0 1  0 3 0 1 2 0 1 0 1 3  0 1 0 2 0 3 0 1 0 1  0 2 0 1 2 0 2 0 3 0  0 1 0 1 3 0 2 0 1 2  0 1 3 0 1 1 0 2 0 2
1 0 1 3 0 2 0 1 0 3  0 2 0 1 0 3 0 1 2 0  2 0 1 2 0 2 0 3 0 1  0 3 0 2 0 1 0 3 0 1  2 0 1 2 0 1 1 0 1 1  0 3 0 1 2 0 1 2 0 1
0 1 3 0 2 0 2 0 1 1  3 0 2 0 1 1 0 2 0 2  0 1 3 0 1 1 0 1 2 0  0 1 2 0 2 0 2 0 1 1  0 3 0 2 0 2 0 1 2 0  1 0 1 2 0 2 0 1 0 3
2 0 1 1 0 1 3 0 2 0  0 2 0 1 3 0 1 2 0 1  0 2 0 1 1 0 2 0 1 3  0 1 0 3 0 2 0 1 1 0  0 1 2 0 2 0 3 0 1 1  0 2 0 2 0 3 0 1 2 0
0 2 0 2 0 2 0 1 2 0  1 0 2 0 2 0 2 0 3 0  3 0 2 0 2 0 1 1 0 1  0 2 0 2 0 2 0 1 3 0  1 0 1 2 0 2 0 3 0 1  0 1 1 0 2 0 2 0 1 0
3 0 1 2 0 1 1 0 1 3  0 1 3 0 2 0 1 0 1 1  0 1 0 2 0 2 0 3 0 1  0 1 2 0 1 1 0 2 0 3  0 2 0 1 2 0 2 0 1 2  3 0 2 0 1 0 1 2 0 1
0 1 0 1 3 0 2 0 1 0  0 3 0 2 0 2 0 2 0 1  0 1 2 0 2 0 3 0 1 0  0 3 0 1 1 0 1 2 0 1  0 1 3 0 1 1 0 1 2 0  0 2 0 2 0 1 0 3 0 1
2 0 1 1 0 1 2 0 1 2  2 0 1 2 0 2 0 3 0 2  1 0 1 3 0 2 0 2 0 1  0 1 1 0 1 3 0 1 2 0  2 0 2 0 3 0 1 1 0 1  1 0 1 2 0 1 2 0 1 1
0 1 3 0 1 2 0 1 3 0  0 1 1 0 1 1 0 2 0 1  0 2 0 1 3 0 2 0 2 0  0 2 0 2 0 1 3 0 1 2  0 1 0 2 0 2 0 2 0 3  0 1 3 0 2 0 2 0 2 0
1 0 2 0 2 0 1 1 0 1  3 0 2 0 3 0 2 0 2 0  0 3 0 2 0 1 0 2 0 2  0 1 2 0 3 0 2 0 1 0  3 0 1 2 0 1 2 0 2 0  0 2 0 1 2 0 2 0 3 0
0 3 0 2 0 2 0 2 0 1  0 1 0 2 0 2 0 1 3 0  2 0 2 0 2 0 1 3 0 1  0 1 3 0 1 2 0 2 0 1  0 2 0 1 1 0 1 3 0 1  2 0 2 0 1 1 0 2 0 1
2 0 2 0 1 3 0 1 2 0  0 3 0 1 1 0 2 0 1 0  0 1 2 0 2 0 2 0 2 0  0 2 0 2 0 1 1 0 2 0  0 1 1 0 1 2 0 1 1 0  0 3 0 1 2 0 2 0 1 0
0 1 2 0 3 0 2 0 1 2  2 0 1 2 0 1 3 0 2 0  3 0 1 1 0 2 0 1 0 3  0 1 0 1 2 0 2 0 3 0  2 0 2 0 3 0 2 0 2 0  0 1 2 0 1 3 0 2 0 2
3 0 1 1 0 1 2 0 2 0  0 1 1 0 2 0 2 0 1 3  0 2 0 2 0 3 0 1 1 0  0 1 1 0 2 0 2 0 1 3  0 1 0 2 0 1 0 2 0 1  1 0 1 2 0 2 0 1 0 1
0 2 0 1 2 0 1 3 0 2  1 0 1 3 0 2 0 2 0 1  0 1 0 1 2 0 2 0 3 0  0 3 0 1 1 0 1 2 0 1  0 3 0 2 0 2 0 1 3 0  0 2 0 1 3 0 1 2 0 1
1 0 2 0 2 0 3 0 1 1  0 2 0 2 0 3 0 1 2 0  2 0 2 0 3 0 2 0 2 0  0 1 2 0 1 3 0 1 1 0  2 0 1 2 0 2 0 1 1 0  0 1 1 0 1 2 0 1 3 0
0 2 0 3 0 1 0 1 2 0  3 0 1 1 0 1 1 0 1 2  0 1 3 0 2 0 1 0 1 2  0 2 0 2 0 1 0 2 0 2  0 2 0 1 1 0 1 3 0 1  3 0 2 0 1 0 1 3 0 1
2 0 2 0 2 0 1 2 0 1  0 3 0 1 2 0 2 0 3 0  0 2 0 1 1 0 1 3 0 1  0 1 3 0 2 0 2 0 1 1  0 1 3 0 1 2 0 2 0 2  0 2 0 1 2 0 2 0 1 0
0 3 0 2 0 2 0 1 1 0  0 1 2 0 1 2 0 2 0 1  3 0 1 2 0 2 0 1 3 0  0 2 0 1 2 0 2 0 3 0  2 0 2 0 1 3 0 1 1 0  1 0 1 3 0 1 2 0 2 0
1 0 1 2 0 1 3 0 1 3  2 0 2 0 3 0 1 1 0 1  0 1 0 2 0 2 0 2 0 3  0 1 1 0 2 0 3 0 2 0  0 1 0 2 0 2 0 2 0 1  2 0 1 1 0 2 0 3 0 2
0 2 0 1 3 0 2 0 2 0  0 2 0 2 0 1 2 0 3 0  0 3 0 1 2 0 1 1 0 1  0 3 0 1 1 0 1 2 0 2  0 1 2 0 1 1 0 1 3 0  0 1 3 0 1 2 0 2 0 1
3 0 1 1 0 2 0 2 0 1  1 0 1 3 0 2 0 1 1 0  2 0 2 0 1 0 3 0 1 1  0 1 0 2 0 3 0 1 1 0  3 0 2 0 2 0 2 0 1 3  0 2 0 2 0 3 0 1 0 1
0 1 2 0 1 3 0 1 1 0  0 3 0 1 2 0 1 3 0 1  0 1 2 0 2 0 2 0 1 2  0 1 2 0 3 0 2 0 2 0  0 2 0 2 0 2 0 3 0 1  1 0 1 2 0 2 0 1 3 0
2 0 2 0 2 0 3 0 1 2  0 1 1 0 1 2 0 1 2 0  0 3 0 1 3 0 2 0 1 0  0 2 0 2 0 2 0 2 0 3  0 1 3 0 2 0 1 0 1 1  0 3 0 1 2 0 1 2 0 1
0 1 0 2 0 1 0 1 3 0  3 0 2 0 1 0 2 0 2 0  1 0 1 1 0 2 0 3 0 1  0 1 1 0 1 3 0 1 2 0  2 0 1 3 0 2 0 2 0 1  0 1 1 0 2 0 3 0 1 2
1 0 3 0 1 2 0 2 0 1  0 2 0 2 0 3 0 1 1 0  0 2 0 1 3 0 1 0 1 3  0 2 0 1 2 0 1 1 0 1  0 3 0 2 0 2 0 1 2 0  3 0 1 2 0 1 1 0 2 0
0 2 0 2 0 1 2 0 1 3  0 1 3 0 2 0 1 0 1 2  2 0 2 0 1 0 2 0 2 0  0 1 3 0 1 1 0 2 0 2  0 1 0 1 1 0 1 3 0 1  0 2 0 2 0 1 0 1 2 0
3 0 2 0 1 0 1 3 0 1  2 0 1 1 0 1 3 0 2 0  0 1 0 2 0 2 0 1 0 1  0 3 0 2 0 2 0 1 3 0  2 0 1 2 0 2 0 1 0 2  0 1 3 0 1 2 0 2 0 3
0 2 0 1 2 0 2 0 1 0  0 1 2 0 2 0 2 0 3 0  3 0 1 2 0 1 3 0 1 1  0 1 1 0 2 0 2 0 2 0  0 1 2 0 2 0 3 0 2 0  2 0 2 0 3 0 1 2 0 1
2 0 1 0 1 3 0 1 2 0  1 0 1 2 0 2 0 1 0 1  0 3 0 2 0 1 0 1 2 0  0 2 0 1 3 0 2 0 1 0  0 3 0 2 0 2 0 1 1 0  0 1 1 0 2 0 2 0 1 1
0 2 0 3 0 1 1 0 1 2  0 2 0 1 3 0 2 0 1 3  0 1 2 0 1 3 0 2 0 2  0 1 2 0 1 2 0 3 0 1  1 0 1 3 0 2 0 2 0 1  3 0 1 2 0 2 0 3 0 1
1 0 2 0 2 0 3 0 2 0  3 0 2 0 1 0 1 2 0 1  0 2 0 1 1 0 2 0 3 0  0 1 0 2 0 1 0 1 2 0  0 2 0 1 1 0 2 0 3 0  0 2 0 1 1 0 1 1 0 2
0 3 0 2 0 2 0 1 1 0  0 1 2 0 1 3 0 1 2 0  2 0 1 3 0 1 2 0 2 0  0 1 3 0 2 0 1 0 1 3  0 1 3 0 1 2 0 2 0 2  0 1 3 0 1 2 0 2 0 1
2 0 1 1 0 2 0 2 0 3  1 0 2 0 2 0 1 3 0 1  0 1 0 1 2 0 1 2 0 1  0 3 0 1 2 0 2 0 1 0  3 0 2 0 2 0 3 0 2 0  1 0 1 1 0 1 3 0 1 2
0 1 2 0 1 3 0 2 0 1  0 3 0 2 0 2 0 1 3 0  3 0 2 0 2 0 1 1 0 2  0 2 0 2 0 3 0 2 0 2  0 1 0 1 3 0 2 0 2 0  0 3 0 2 0 2 0 1 1 0
3 0 1 2 0 1 1 0 2 0  0 1 0 1 3 0 2 0 1 0  0 1 3 0 1 1 0 2 0 3  0 1 1 0 1 2 0 2 0 1  2 0 2 0 1 0 1 3 0 1  2 0 2 0 3 0 2 0 2 0
0 2 0 1 2 0 1 3 0 1  2 0 1 3 0 1 1 0 1 2  0 2 0 2 0 3 0 1 2 0  0 3 0 1 1 0 2 0 3 0  0 1 2 0 2 0 2 0 1 1  0 1 1 0 1 3 0 2 0 1
1 0 2 0 3 0 2 0 2 0  0 1 2 0 1 1 0 2 0 1  1 0 1 2 0 1 1 0 2 0  0 1 2 0 1 1 0 2 0 1  2 0 1 3 0 2 0 1 0 1  0 3 0 2 0 1 0 1 3 0
0 3 0 2 0 1 2 0 1 3  3 0 2 0 2 0 2 0 2 0  0 3 0 1 3 0 2 0 1 0  0 1 0 2 0 3 0 1 2 0  0 2 0 1 2 0 1 2 0 1  2 0 1 2 0 2 0 2 0 1
2 0 2 0 1 2 0 1 0 1  0 2 0 2 0 3 0 2 0 3  2 0 1 1 0 1 2 0 1 2  0 2 0 1 2 0 1 3 0 1  3 0 2 0 1 3 0 1 1 0  0 1 0 1 2 0 2 0 1 0
0 1 3 0 1 0 2 0 3 0  1 0 1 2 0 1 3 0 2 0  0 1 1 0 1 2 0 3 0 1  0 1 3 0 2 0 2 0 1 1  0 1 3 0 1 1 0 1 2 0  3 0 2 0 1 0 2 0 1 3
3 0 1 1 0 2 0 2 0 1  0 1 3 0 2 0 2 0 1 0  3 0 2 0 1 3 0 2 0 2  0 2 0 2 0 2 0 1 2 0  0 2 0 2 0 2 0 2 0 3  0 1 2 0 2 0 3 0 2 0
0 2 0 1 3 0 2 0 1 2  2 0 2 0 1 0 1 2 0 1  0 2 0 1 2 0 2 0 2 0  0 1 1 0 2 0 1 1 0 1  2 0 1 3 0 1 3 0 2 0  1 0 1 3 0 2 0 1 0 1
1 0 2 0 1 2 0 1 1 0  0 3 0 2 0 1 1 0 1 3  0 1 0 1 3 0 1 1 0 1  0 3 0 2 0 1 3 0 1 3  0 1 2 0 2 0 1 0 2 0  0 2 0 1 2 0 1 3 0 2
0 2 0 3 0 1 3 0 1 2  0 1 2 0 1 3 0 1 2 0  2 0 1 3 0 2 0 2 0 1  0 1 0 1 3 0 2 0 1 2  3 0 1 2 0 2 0 1 3 0  0 3 0 2 0 2 0 2 0 1
2 0 1 1 0 1 1 0 2 0  3 0 1 2 0 2 0 3 0 1  0 3 0 1 1 0 2 0 3 0  0 1 2 0 1 1 0 1 3 0  0 3 0 1 1 0 1 2 0 1  2 0 2 0 1 0 1 2 0 1
0 3 0 1 2 0 1 3 0 1  0 1 0 1 2 0 2 0 1 2  1 0 2 0 2 0 3 0 1 1  0 2 0 2 0 3 0 2 0 1  1 0 2 0 3 0 1 1 0 3  0 1 3 0 1 3 0 1 2 0
1 0 1 2 0 2 0 1 0 3  2 0 2 0 3 0 1 2 0 1  0 2 0 2 0 1 0 1 1 0  0 1 3 0 2 0 1 0 1 2  0 2 0 2 0 1 0 2 0 2  2 0 1 1 0 2 0 1 3 0
0 1 3 0 1 3 0 1 2 0  0 3 0 2 0 2 0 1 2 0  2 0 1 2 0 2 0 3 0 1  0 1 0 1 2 0 1 2 0 1  3 0 1 2 0 1 2 0 2 0  0 3 0 1 2 0 2 0 1 2
3 0 2 0 1 0 1 2 0 1  1 0 1 3 0 1 1 0 1 3  0 1 3 0 2 0 2 0 1 3  0 3 0 2 0 2 0 1 1 0  0 1 1 0 1 3 0 1 2 0  1 0 1 2 0 1 3 0 2 0
0 2 0 1 3 0 2 0 1 0  0 2 0 2 0 3 0 2 0 1  0 1 0 1 3 0 2 0 2 0  0 1 2 0 2 0 2 0 1 3  0 3 0 2 0 2 0 1 0 1  0 2 0 1 3 0 1 1 0 2
2 0 1 3 0 1 2 0 1 2  3 0 2 0 2 0 1 1 0 1  2 0 1 1 0 1 3 0 2 0  0 1 0 1 3 0 2 0 2 0  2 0 2 0 1 0 1 3 0 1  2 0 2 0 1 0 1 2 0 1
0 1 2 0 1 1 0 3 0 1  0 1 0 1 1 0 2 0 1 2  0 3 0 2 0 2 0 1 2 0  0 2 0 2 0 3 0 2 0 1  0 1 0 2 0 2 0 2 0 3  0 1 2 0 1 2 0 1 3 0
3 0 2 0 2 0 1 1 0 1  2 0 1 2 0 2 0 3 0 1  0 1 2 0 1 0 2 0 3 0  0 1 1 0 1 2 0 3 0 1  3 0 2 0 2 0 2 0 1 2  0 1 0 1 2 0 2 0 1 0
0 3 0 2 0 3 0 1 2 0  0 1 3 0 1 1 0 1 2 0  2 0 1 3 0 1 1 0 1 2  0 3 0 1 2 0 1 1 0 1  0 2 0 1 3 0 1 2 0 1  0 3 0 2 0 3 0 1 2 0
1 0 2 0 2 0 2 0 1 3  2 0 2 0 3 0 2 0 1 0  0 2 0 2 0 3 0 2 0 1  0 1 3 0 2 0 2 0 1 3  2 0 1 2 0 2 0 1 0 1  2 0 1 2 0 1 1 0 2 0
0 2 0 2 0 3 0 1 1 0  0 3 0 2 0 2 0 2 0 1  3 0 2 0 2 0 1 3 0 1  0 1 0 2 0 2 0 1 1 0  0 1 3 0 1 2 0 1 2 0  0 2 0 2 0 2 0 3 0 2
3 0 1 1 0 1 2 0 1 2  1 0 1 2 0 2 0 1 0 3  0 1 0 1 3 0 1 1 0 1  0 1 2 0 1 3 0 1 2 0  1 0 2 0 3 0 2 0 1 1  3 0 2 0 2 0 2 0 1 0
0 2 0 1 3 0 1 3 0 1  0 2 0 1 2 0 2 0 2 0  0 3 0 2 0 1 0 1 3 0  0 2 0 1 1 0 1 2 0 1  0 2 0 1 1 0 2 0 3 0  0 1 3 0 1 1 0 2 0 2
2 0 1 2 0 1 1 0 1 1  2 0 2 0 3 0 1 2 0 1  2 0 1 2 0 1 2 0 2 0  0 1 0 2 0 2 0 1 1 0  3 0 1 2 0 2 0 3 0 1  2 0 1 2 0 1 3 0 2 0
0 1 1 0 2 0 1 1 0 2  0 1 0 1 1 0 2 0 1 0  0 1 0 1 1 0 1 2 0 1  0 1 1 0 1 0 1 0 1 2  0 1 0 1 1 0 1 1 0 1  0 2 0 1 1 0 1 1 0 2
}\faxdata

\pgfplotsset{
  traces/.style={
    scale only axis, width=321.7pt, height=1363.9pt,
    xmin=0, xmax=300, ymin=-34.1, ymax=420.7,
    axis x line*=bottom,
    xtick={0,50,...,300},
    tick align=outside,
    major tick length=2pt,
    axis line style={line width=0.48pt},
    tick style={black, line width=0.48pt},
    /pgf/number format/assume math mode=true,
    xticklabel style={font=\fontsize{6}{7}\selectfont, inner sep=0pt, anchor=north, yshift=-3.6pt},
    xlabel={Time (s)},
    xlabel style={at={(axis description cs:0.5,0)}, anchor=center, yshift=-14.4pt, font=\fontsize{7.3}{8.5}\selectfont},
    title style={at={(axis description cs:0.5,1)}, anchor=center, yshift=2.9pt, font=\fontsize{11.2}{13}\selectfont},
    every axis plot/.append style={line join=round},
  },
}

\begin{document}
\begin{tikzpicture}
\path[use as bounding box] (0,0) rectangle (720pt,1620pt);
\node[font=\fontsize{14}{17}\selectfont] at (360pt,1582pt) {\#328 Glut network activity comparison};

\begin{axis}[traces,
  at={(37.92pt,105.12pt)}, anchor=south west,
  title={Ctrl},
  axis y line*=left,
  ytick={2.25,8.98,...,400},
  yticklabels={Ch 78,Ch 68,Ch 58,Ch 48,Ch 38,Ch 28,Ch 87,Ch 77,Ch 67,Ch 57,Ch 47,Ch 37,Ch 27,Ch 17,Ch 86,Ch 76,Ch 66,Ch 56,Ch 46,Ch 36,Ch 26,Ch 16,Ch 85,Ch 75,Ch 65,Ch 55,Ch 45,Ch 35,Ch 25,Ch 15,Ch 84,Ch 74,Ch 64,Ch 54,Ch 44,Ch 34,Ch 24,Ch 14,Ch 83,Ch 73,Ch 63,Ch 53,Ch 43,Ch 33,Ch 23,Ch 13,Ch 82,Ch 72,Ch 62,Ch 52,Ch 42,Ch 32,Ch 22,Ch 12,Ch 71,Ch 61,Ch 51,Ch 41,Ch 31,Ch 21},
  ytick style={draw=none},
  yticklabel style={font=\fontsize{4.5}{5}\selectfont, anchor=east, inner sep=0pt, xshift=-6.7pt},
]
\pgfplotsinvokeforeach{0,...,59}{
  \addplot[black, line width=0.55pt] table[x expr=\coordindex*3, y expr=\thisrowno{#1}*0.75+(59-#1)*6.73]{\ctrldata};
}
\end{axis}

\begin{axis}[traces,
  at={(372.72pt,105.12pt)}, anchor=south west,
  title={FAX},
  axis y line=none,
]
\pgfplotsinvokeforeach{0,...,59}{
  \addplot[faxblue, line width=0.55pt] table[x expr=\coordindex*3, y expr=\thisrowno{#1}*0.75+(59-#1)*6.73]{\faxdata};
}
\addplot[black, line width=0.7pt] coordinates {(254.8,-11.45) (254.8,-13.45) (285.4,-13.45)};
\node[anchor=east, inner sep=0pt, font=\fontsize{5.8}{7}\selectfont] at (axis cs:251.7,-12.45) {2.0 Hz};
\node[inner sep=0pt, font=\fontsize{5.8}{7}\selectfont] at (axis cs:270,-16.25) {30 s};
\end{axis}
\end{tikzpicture}
\end{document}
